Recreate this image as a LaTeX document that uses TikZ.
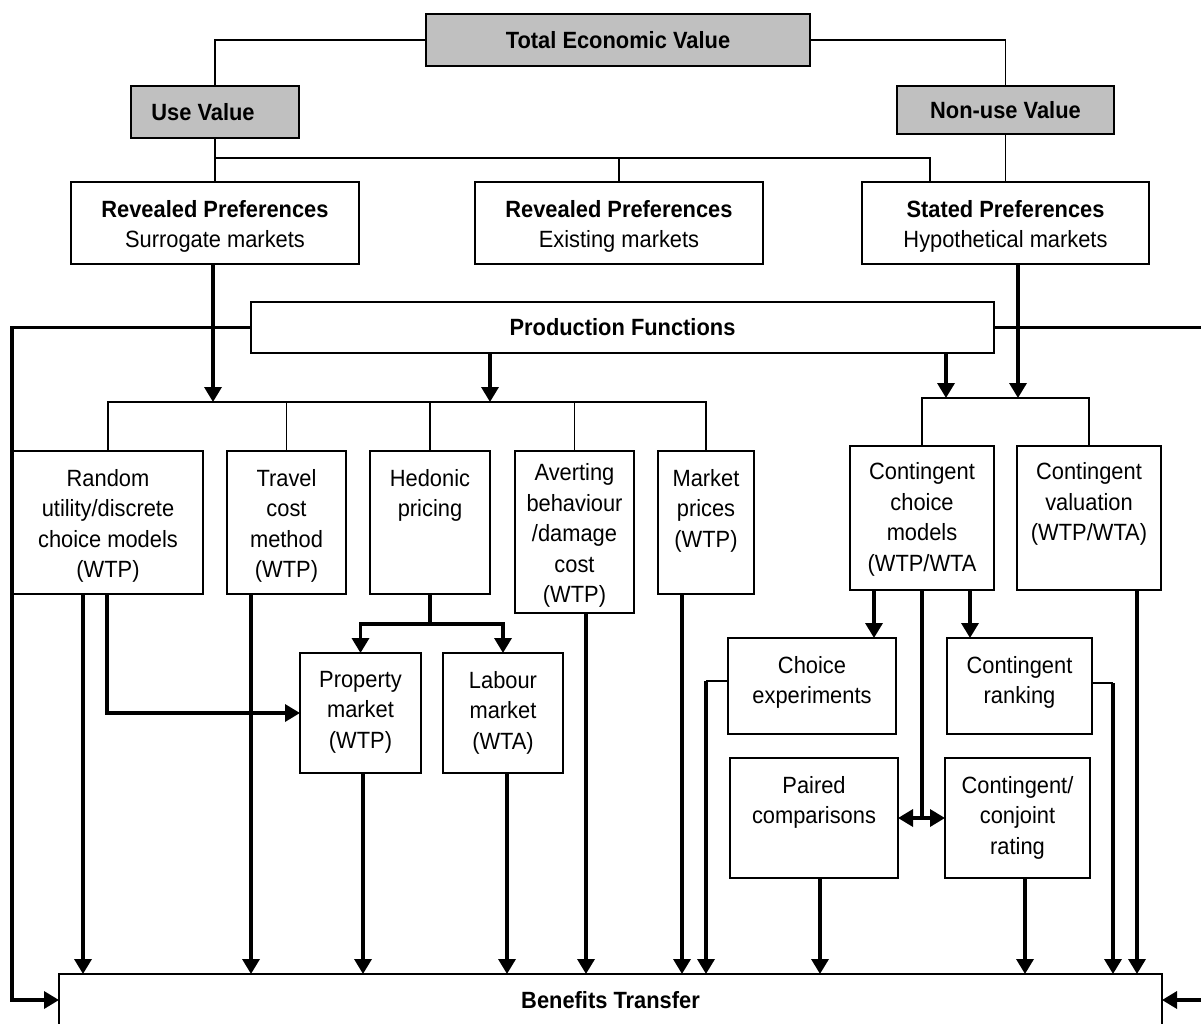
\documentclass[tikz,border=0pt]{standalone}
\usepackage{fontspec}
\setmainfont{Liberation Sans}[FakeStretch=0.93]
\usetikzlibrary{arrows.meta}
\definecolor{boxgray}{RGB}{192,192,192}

% box with its text set from the top edge (optional: gap above the text)
\newcommand\mkbox[7][18]{%
  \node[box, minimum width=#5pt, minimum height=#6pt] (#2) at (#3,#4) {};
  \node[txt, anchor=north] (#2-t) at ([yshift=-#1pt]#2.north) {#7};}

\begin{document}
\begin{tikzpicture}[x=1pt,y=-1pt,
  box/.style={draw, line width=1.6pt, rectangle, inner sep=0pt, outer sep=0pt, anchor=north west},
  graybox/.style={box, fill=boxgray},
  txt/.style={inner sep=0pt, align=center, font=\fontsize{23.5}{30.5}\selectfont},
  hd/.style={font=\fontsize{23.5}{30.5}\selectfont\bfseries},
  thin/.style={line width=1.8pt},
  thk/.style={line width=3.4pt},
  tip/.tip={Triangle[length=15pt,width=17pt]},
  arr/.style={thk, -tip},
]
\useasboundingbox (0,0) rectangle (1201,1023);
\clip (0,0) rectangle (1201,1023);

% top levels
\node[graybox, hd, minimum width=384pt, minimum height=52pt] (tev) at (426,14) {Total Economic Value};
\node[graybox, minimum width=168pt, minimum height=52pt] (uv) at (131,86) {};
\node[txt, hd] (uv-t) at (203,112) {Use Value};
\node[graybox, hd, minimum width=217pt, minimum height=48pt] (nuv) at (897,86) {Non-use Value};

\mkbox{rps}{71}{182}{288}{82}{\textbf{Revealed Preferences}\\Surrogate markets}
\mkbox{rpe}{475}{182}{288}{82}{\textbf{Revealed Preferences}\\Existing markets}
\mkbox{sp}{862}{182}{287}{82}{\textbf{Stated Preferences}\\Hypothetical markets}

\node[box, hd, minimum width=743pt, minimum height=51pt] (pf) at (251,302) {Production Functions};

% valuation methods
\mkbox{rum}{13}{451}{190}{143}{Random\\utility/discrete\\choice models\\(WTP)}
\mkbox{tcm}{227}{451}{119}{143}{Travel\\cost\\method\\(WTP)}
\mkbox{hp}{370}{451}{120}{143}{Hedonic\\pricing}
\mkbox[12.5]{ab}{515}{451}{119}{162}{\fontsize{23.5}{30}\selectfont Averting\\behaviour\\/damage\\cost\\(WTP)}
\mkbox{mp}{658}{451}{96}{143}{Market\\prices\\(WTP)}
\mkbox[16.5]{ccm}{850}{446}{144}{144}{Contingent\\choice\\models\\(WTP/WTA}
\mkbox[16.5]{cv}{1017}{446}{144}{144}{Contingent\\valuation\\(WTP/WTA)}

\mkbox{pm}{300}{653}{121}{120}{Property\\market\\(WTP)}
\mkbox{lm}{443}{653}{120}{120}{Labour\\market\\(WTA)}
\mkbox{ce}{728}{638}{168}{96}{Choice\\experiments}
\mkbox{cr}{947}{638}{145}{96}{Contingent\\ranking}
\mkbox{pc}{730}{758}{168}{120}{Paired\\comparisons}
\mkbox{ccr}{945}{758}{145}{120}{Contingent/\\conjoint\\rating}

\node[box, hd, minimum width=1103pt, minimum height=52pt] (bt) at (59,974) {Benefits Transfer};

% tree of values
\draw[thin] (tev.west) -| (uv.north);
\draw[thin] (tev.east) -| (nuv.north);
\draw[thin] (uv.south) -- (rps.north);
\draw[thin] (nuv.south) -- (sp.north);
\coordinate (ubL) at (215,158);
\coordinate (ubR) at (930,158);
\draw[thin] (ubL) -- (ubR) -- (ubR |- sp.north);
\draw[thin] (rpe.north) -- (rpe.north |- ubL);

% branching bars
\coordinate (lb) at (0,402);
\coordinate (rb) at (0,398);
\draw[thin] (rum.north) -- (rum.north |- lb) -- (mp.north |- lb) -- (mp.north);
\foreach \n in {tcm,hp,ab} \draw[thin] (\n.north) -- (\n.north |- lb);
\draw[thin] (ccm.north) -- (ccm.north |- rb) -- (cv.north |- rb) -- (cv.north);

% feeds into the bars
\coordinate (rpso) at ([xshift=-2pt]rps.south);
\draw[arr] (rpso) -- (rpso |- lb);
\coordinate (spo) at ([xshift=12.5pt]sp.south);
\draw[arr] (spo) -- (spo |- rb);
\coordinate (pfo1) at ([xshift=-132.5pt]pf.south);
\draw[arr] (pfo1) -- (pfo1 |- lb);
\coordinate (pfo2) at ([xshift=323.5pt]pf.south);
\draw[arr] (pfo2) -- (pfo2 |- rb);

% side buses
\coordinate (lbus) at ([xshift=-239pt]pf.west);
\draw[arr] (pf.west) -- (lbus) |- (bt.west);
\coordinate (rbusT) at (1201,327.5);
\coordinate (rbusB) at (1201,1000);
\draw[thk] (pf.east) -- (rbusT);
\draw[arr] (rbusB) -- (bt.east);

% revealed preference methods
\coordinate (rumo1) at ([xshift=-25pt]rum.south);
\draw[arr] (rumo1) -- (rumo1 |- bt.north);
\coordinate (rumo2) at ([xshift=-1pt]rum.south);
\draw[arr] (rumo2) |- (pm.west);
\coordinate (tcmo) at ([xshift=-35.5pt]tcm.south);
\draw[arr] (tcmo) -- (tcmo |- bt.north);
\coordinate (hpj) at ([yshift=-30pt]hp.south);
\draw[thk] (hp.south) -- (hpj);
\draw[arr] (hpj) -| (pm.north);
\draw[arr] (hpj) -| (lm.north);
\coordinate (pmo) at ([xshift=2.5pt]pm.south);
\draw[arr] (pmo) -- (pmo |- bt.north);
\coordinate (lmo) at ([xshift=4pt]lm.south);
\draw[arr] (lmo) -- (lmo |- bt.north);
\coordinate (abo) at ([xshift=11.5pt]ab.south);
\draw[arr] (abo) -- (abo |- bt.north);
\coordinate (mpo) at ([xshift=-24pt]mp.south);
\draw[arr] (mpo) -- (mpo |- bt.north);

% stated preference methods
\coordinate (ccmo1) at ([xshift=-48pt]ccm.south);
\draw[arr] (ccmo1) -- (ccmo1 |- ce.north);
\coordinate (ccmo2) at ([xshift=48pt]ccm.south);
\draw[arr] (ccmo2) -- (ccmo2 |- cr.north);
\draw[thk] (ccm.south) -- (ccm.south |- pc.east);
\draw[thk, tip-tip] (pc.east) -- (ccr.west);
\coordinate (cej) at ([yshift=5pt]ce.west);
\coordinate (cebus) at ([xshift=-22pt]cej);
\draw[thin] (cej) -- (cebus);
\draw[arr] (cebus) -- (cebus |- bt.north);
\coordinate (crj) at ([yshift=3pt]cr.east);
\coordinate (crbus) at ([xshift=21pt]crj);
\draw[thin] (crj) -- (crbus);
\draw[arr] (crbus) -- (crbus |- bt.north);
\coordinate (cvo) at ([xshift=48pt]cv.south);
\draw[arr] (cvo) -- (cvo |- bt.north);
\coordinate (pco) at ([xshift=6pt]pc.south);
\draw[arr] (pco) -- (pco |- bt.north);
\coordinate (ccro) at ([xshift=7.5pt]ccr.south);
\draw[arr] (ccro) -- (ccro |- bt.north);
\end{tikzpicture}
\end{document}
